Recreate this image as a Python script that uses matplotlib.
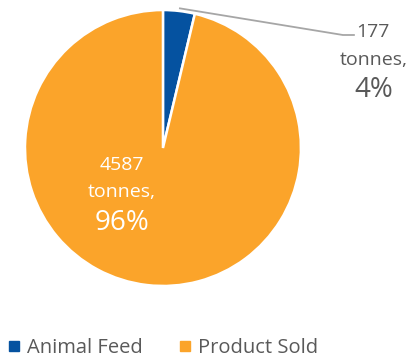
import matplotlib
matplotlib.use("Agg")
from matplotlib import pyplot as plt
from matplotlib.lines import Line2D
import numpy as np

plt.rcParams['font.family'] = ['Open Sans', 'DejaVu Sans']

categories = ['Animal Feed', 'Product Sold']
tonnes = [177, 4587]
colors = ['#0552A0', '#FBA42A']

total = sum(tonnes)
pcts = [round(100 * t / total) for t in tonnes]

fig = plt.figure(figsize=(4.07, 3.58), dpi=100)
ax = fig.add_axes([0.0614, 0.2011, 0.678, 0.771])
ax.pie(tonnes, colors=colors, startangle=90, counterclock=False, radius=1,
       wedgeprops=dict(edgecolor='white', linewidth=1.8))
ax.set_xlim(-1, 1)
ax.set_ylim(-1, 1)
ax.set_aspect('equal')

# leader line for the small slice
ax.plot([0.123, 1.304, 1.384], [1.012, 0.819, 0.819], color='#A6A6A6',
        lw=1.3, clip_on=False)

grey = '#595959'
ax.text(1.40, 0.84, str(tonnes[0]), ha='left', va='center', fontsize=14, color=grey)
ax.text(1.53, 0.64, 'tonnes,', ha='center', va='center', fontsize=14, color=grey)
ax.text(1.53, 0.42, f'{pcts[0]}%', ha='center', va='center', fontsize=20, color=grey)

ax.text(-0.30, -0.12, str(tonnes[1]), ha='center', va='center', fontsize=14, color='white')
ax.text(-0.30, -0.32, 'tonnes,', ha='center', va='center', fontsize=14, color='white')
ax.text(-0.30, -0.54, f'{pcts[1]}%', ha='center', va='center', fontsize=20, color='white')

handles = [Line2D([], [], marker='s', linestyle='', color=c, markersize=6.5) for c in colors]
fig.legend(handles, categories, loc='center left', bbox_to_anchor=(0.015, 0.027),
           ncol=2, frameon=False, fontsize=14.5, handletextpad=0.25,
           columnspacing=1.7, labelcolor=grey, handlelength=0.8,
           borderaxespad=0, borderpad=0)

fig.savefig('out.png', dpi=100)
